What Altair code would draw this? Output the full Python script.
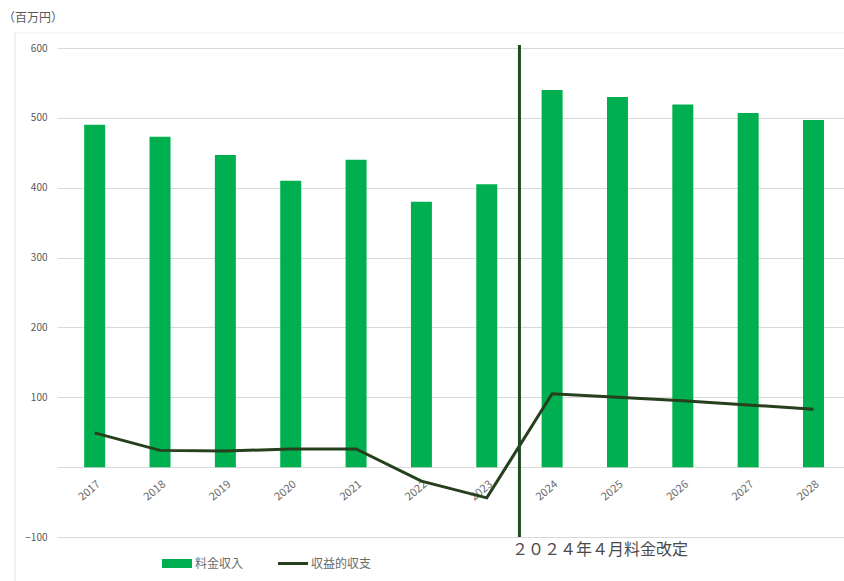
import altair as alt
import pandas as pd

years = [2017, 2018, 2019, 2020, 2021, 2022, 2023, 2024, 2025, 2026, 2027, 2028]
revenue = [490, 473, 447, 410, 440, 380, 405, 540, 530, 519, 507, 497]
balance = [49, 24, 23, 26, 26, -20, -44, 105, 100, 95, 89, 83]
y_ticks = [-100, 100, 200, 300, 400, 500, 600]
bar_name = "料金収入"
line_name = "収益的収支"
unit_label = "（百万円）"
note_label = "２０２４年４月料金改定"
revision_pos = 2023.5

df = pd.DataFrame({"year": years, "revenue": revenue, "balance": balance})

FONT = "Noto Sans CJK JP"
GREEN = "#00b050"
DARK = "#263f1c"
RULE = "#1e4a24"
GRID = "#d9d9d9"
TXT = "#595959"

xs = alt.Scale(domain=[2016.5, 2028.39], nice=False, zero=False)
ys = alt.Scale(domain=[-100, 600], nice=False, zero=False)

base = alt.Chart(df)

bars = base.mark_bar(color=GREEN, size=21).encode(
    x=alt.X("year:Q", scale=xs, title=None,
            axis=alt.Axis(values=years, format="d", labelAngle=320, offset=-70,
                          domainColor=GRID, ticks=False, grid=False,
                          labelColor="#6b6b6b", labelFontSize=11, labelFont=FONT,
                          labelPadding=11)),
    y=alt.Y("revenue:Q", scale=ys, title=None,
            axis=alt.Axis(values=y_ticks, domain=False, ticks=False,
                          gridColor=GRID, labelColor=TXT, labelFontSize=10,
                          labelFont=FONT, labelPadding=10)),
)

line = base.mark_line(color=DARK, strokeWidth=3).encode(
    x=alt.X("year:Q", scale=xs),
    y=alt.Y("balance:Q", scale=ys),
)

vrule = alt.Chart(pd.DataFrame({"x": [revision_pos]})).mark_rule(
    color=RULE, strokeWidth=3).encode(
    x=alt.X("x:Q", scale=xs),
    y=alt.value(489),
    y2=alt.value(-3),
)

note = alt.Chart(pd.DataFrame({"t": [note_label]})).mark_text(
    align="left", baseline="middle", font=FONT, fontSize=16, color="#4a4a4a"
).encode(text="t:N", x=alt.value(455), y=alt.value(502))

unit = alt.Chart(pd.DataFrame({"t": [unit_label]})).mark_text(
    align="left", baseline="middle", font=FONT, fontSize=12, color=TXT
).encode(text="t:N", x=alt.value(-54), y=alt.value(-30))

frame_left = alt.Chart(pd.DataFrame({"a": [0]})).mark_rule(color="#e3e3e3", strokeWidth=1).encode(
    x=alt.value(-42), y=alt.value(-15), y2=alt.value(540))
frame_top = alt.Chart(pd.DataFrame({"a": [0]})).mark_rule(color="#eeeeee", strokeWidth=1).encode(
    x=alt.value(-42), x2=alt.value(800), y=alt.value(-15))

leg_rect = alt.Chart(pd.DataFrame({"a": [0]})).mark_rect(color=GREEN).encode(
    x=alt.value(105), x2=alt.value(135), y=alt.value(511), y2=alt.value(520))
leg_line = alt.Chart(pd.DataFrame({"a": [0]})).mark_rule(color=DARK, strokeWidth=3).encode(
    x=alt.value(221), x2=alt.value(251), y=alt.value(515.5))
leg_t1 = alt.Chart(pd.DataFrame({"t": [bar_name]})).mark_text(
    align="left", baseline="middle", font=FONT, fontSize=12, color="#6b6b6b"
).encode(text="t:N", x=alt.value(138), y=alt.value(515.5))
leg_t2 = alt.Chart(pd.DataFrame({"t": [line_name]})).mark_text(
    align="left", baseline="middle", font=FONT, fontSize=12, color="#6b6b6b"
).encode(text="t:N", x=alt.value(254), y=alt.value(515.5))

chart = alt.layer(
    frame_left, frame_top, bars, line, vrule, note, unit,
    leg_rect, leg_line, leg_t1, leg_t2
).properties(
    width=787, height=489,
    autosize=alt.AutoSizeParams(type="none"),
    padding={"left": 57, "top": 48, "right": 0, "bottom": 44},
    background="white",
).configure_view(stroke=None)

chart.save("out.html", embed_options={"renderer": "svg", "actions": False})
